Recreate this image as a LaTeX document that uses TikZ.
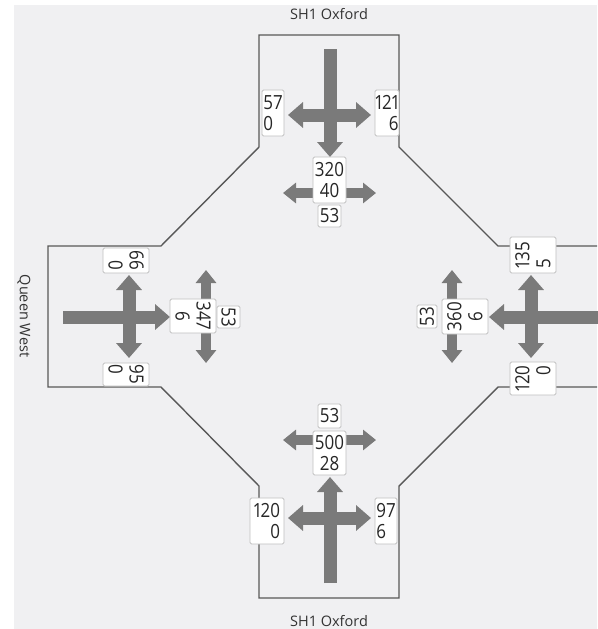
\documentclass[tikz,border=0pt]{standalone}
\usepackage{fontspec}
\setmainfont{Open Sans}
\newfontfamily\numfont{Open Sans}[FakeStretch=0.87,Numbers=Proportional]
\usetikzlibrary{arrows.meta}

\definecolor{bg}{RGB}{240,240,242}
\definecolor{road}{RGB}{88,88,88}
\definecolor{flow}{RGB}{122,122,122}
\definecolor{boxline}{RGB}{192,192,192}

\tikzset{
  numbox/.style={draw=boxline, fill=white, rounded corners=1.5pt, line width=0.8pt,
    inner sep=0pt, font=\numfont\fontsize{19.5}{21}\selectfont, text=black!85},
  mainflow/.style={draw=flow, line width=13pt, -{Triangle[width=25pt,length=15pt]}},
  mainboth/.style={draw=flow, line width=13pt,
    {Triangle[width=25pt,length=15pt]}-{Triangle[width=25pt,length=15pt]}},
  sideboth/.style={draw=flow, line width=10pt,
    {Triangle[width=20pt,length=13pt]}-{Triangle[width=20pt,length=13pt]}},
  streetlabel/.style={font=\fontsize{14.5}{16}\selectfont, text=black!80},
  roadedge/.style={draw=road, line width=1.4pt, line join=miter},
}

\begin{document}
\begin{tikzpicture}[x=1pt, y=-1pt]
  % canvas
  \useasboundingbox (0,0) rectangle (597,629);
  \fill[white] (0,0) rectangle (597,629);
  \fill[bg] (14,5) rectangle (597,629);

  % kerb outline of the intersection
  \draw[roadedge] (597,246) -- (498,246) -- (399,147) -- (399,35) -- (259,35)
    -- (259,147) -- (161,246) -- (48,246) -- (48,387) -- (161,387)
    -- (259,486) -- (259,598) -- (399,598) -- (399,486) -- (498,387) -- (597,387);

  % street names
  \node[streetlabel] (north) at (329,14) {SH1 Oxford};
  \node[streetlabel] (south) at (329,621) {SH1 Oxford};
  \node[streetlabel, rotate=-90] (west) at (24,316) {Queen West};

  % approach flows: north
  \coordinate (nIn) at (330,49);  \coordinate (nTip) at (330,157);
  \coordinate (nL) at (288,115);  \coordinate (nR) at (371,115);
  \draw[mainflow] (nIn) -- (nTip);
  \draw[mainboth] (nL) -- (nR);
  % south
  \coordinate (sIn) at (330,583); \coordinate (sTip) at (330,477);
  \coordinate (sL) at (288,518);  \coordinate (sR) at (371,518);
  \draw[mainflow] (sIn) -- (sTip);
  \draw[mainboth] (sL) -- (sR);
  % west
  \coordinate (wIn) at (63,317);  \coordinate (wTip) at (170,317);
  \coordinate (wU) at (129,275);  \coordinate (wD) at (129,358);
  \draw[mainflow] (wIn) -- (wTip);
  \draw[mainboth] (wU) -- (wD);
  % east
  \coordinate (eIn) at (600,317); \coordinate (eTip) at (489,317);
  \coordinate (eU) at (531,275);  \coordinate (eD) at (531,358);
  \draw[mainflow] (eIn) -- (eTip);
  \draw[mainboth] (eU) -- (eD);

  % crossing flows
  \coordinate (cnL) at (283,193); \coordinate (cnR) at (376,193);
  \coordinate (csL) at (283,440); \coordinate (csR) at (376,440);
  \coordinate (cwU) at (206,270); \coordinate (cwD) at (206,363);
  \coordinate (ceU) at (452,270); \coordinate (ceD) at (452,363);
  \draw[sideboth] (cnL) -- (cnR);
  \draw[sideboth] (csL) -- (csR);
  \draw[sideboth] (cwU) -- (cwD);
  \draw[sideboth] (ceU) -- (ceD);

  % counts: north
  \node[numbox, minimum width=22pt, minimum height=46pt, align=left] (n1) at (273,113) {57\\0};
  \node[numbox, minimum width=24pt, minimum height=46pt, align=right] (n2) at (387,113) {121\\6};
  \node[numbox, minimum width=33pt, minimum height=46pt, align=center] (n3) at (329.5,180) {320\\40};
  \node[numbox, minimum width=23pt, minimum height=22pt] (n4) at (329.5,216) {53};
  % south
  \node[numbox, minimum width=23pt, minimum height=24pt] (s1) at (329.5,416) {53};
  \node[numbox, minimum width=33pt, minimum height=44pt, align=center] (s2) at (329.5,453) {500\\28};
  \node[numbox, minimum width=34pt, minimum height=46pt, align=right] (s3) at (267,521) {120\\0};
  \node[numbox, minimum width=22pt, minimum height=46pt, align=left] (s4) at (386,521) {97\\6};
  % west
  \node[numbox, rotate=-90, minimum width=25pt, minimum height=46pt, align=right] (w1) at (126,260.5) {66\\0};
  \node[numbox, rotate=-90, minimum width=23pt, minimum height=46pt, align=left] (w2) at (126,374.5) {95\\0};
  \node[numbox, rotate=-90, minimum width=34pt, minimum height=46pt, align=center] (w3) at (193,316) {347\\6};
  \node[numbox, rotate=-90, minimum width=22pt, minimum height=23pt] (w4) at (228.5,317) {53};
  % east
  \node[numbox, rotate=90, minimum width=36pt, minimum height=46pt, align=left] (e1) at (533,255) {135\\5};
  \node[numbox, rotate=90, minimum width=33pt, minimum height=46pt, align=right] (e2) at (533,378.5) {120\\0};
  \node[numbox, rotate=90, minimum width=35pt, minimum height=46pt, align=center] (e3) at (465,316.5) {360\\6};
  \node[numbox, rotate=90, minimum width=23pt, minimum height=20pt] (e4) at (427,316.5) {53};
\end{tikzpicture}
\end{document}
